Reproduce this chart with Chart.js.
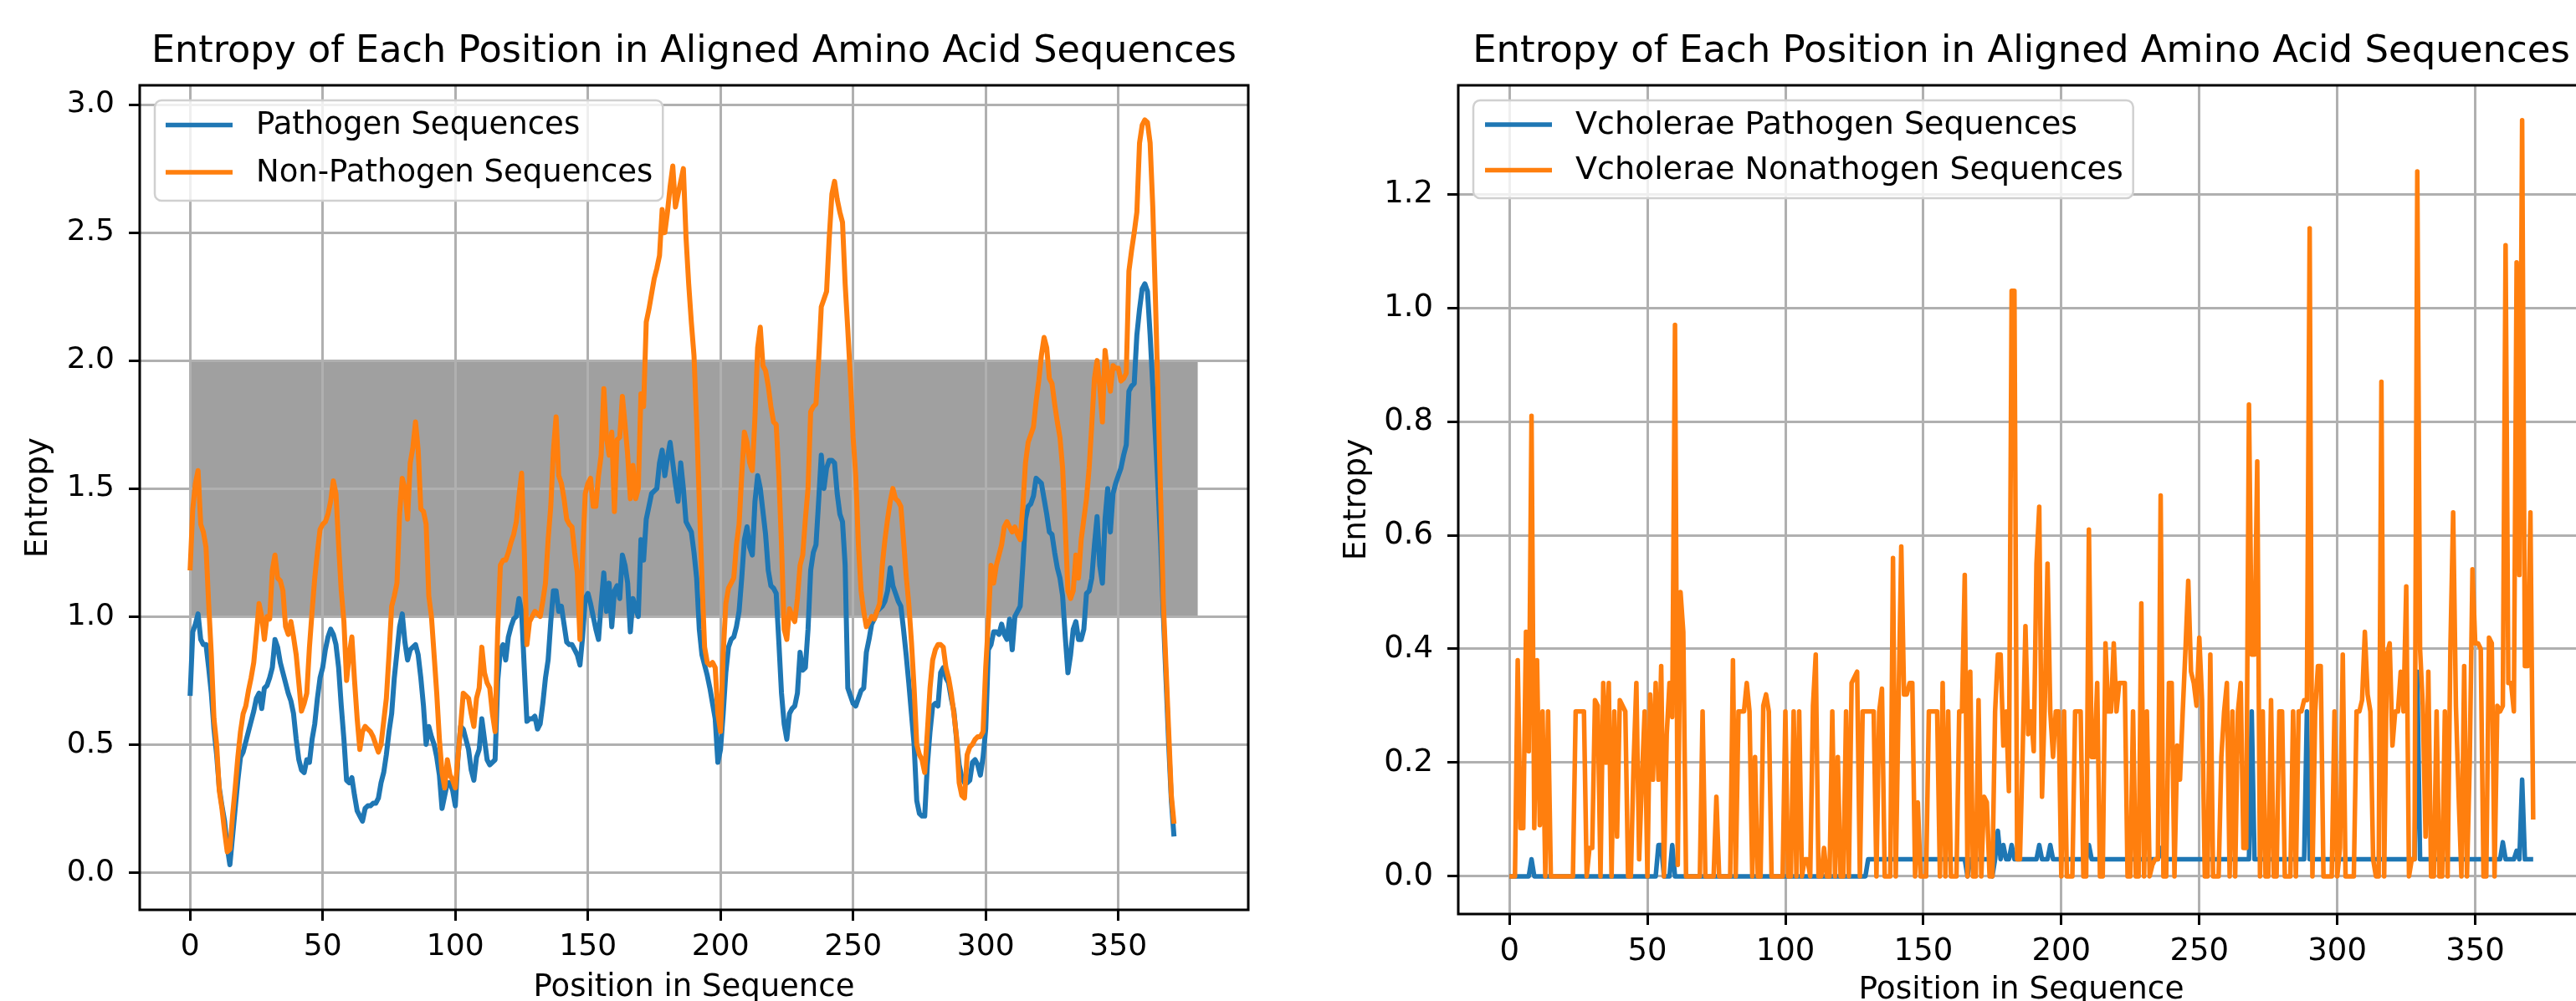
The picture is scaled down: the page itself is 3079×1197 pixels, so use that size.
<!DOCTYPE html>
<html><head><meta charset="utf-8">
<script src="https://cdn.jsdelivr.net/npm/chart.js@4.4.1/dist/chart.umd.min.js"></script>
<style>
html,body{margin:0;padding:0;background:#fff;overflow:hidden;width:3079px;height:1197px;}
#wrap{position:relative;width:3079px;height:1197px;overflow:hidden;background:#fff;}
#c1{position:absolute;left:0;top:0;}
#c2{position:absolute;left:1560px;top:0;}
</style></head><body>
<div id="wrap">
<canvas id="c1" width="1540" height="1240"></canvas>
<canvas id="c2" width="1580" height="1240"></canvas>
</div>
<script>
// ---------------- DATA ----------------
const leftTitle = 'Entropy of Each Position in Aligned Amino Acid Sequences';
const rightTitle = 'Entropy of Each Position in Aligned Amino Acid Sequences';
const xAxisTitle = 'Position in Sequence';
const yAxisTitle = 'Entropy';
const leftSeriesNames = ['Pathogen Sequences', 'Non-Pathogen Sequences'];
const rightSeriesNames = ['Vcholerae Pathogen Sequences', 'Vcholerae Nonathogen Sequences'];

const xTicks = [0, 50, 100, 150, 200, 250, 300, 350];
const leftYTicks = [0, 0.5, 1.0, 1.5, 2.0, 2.5, 3.0];
const rightYTicks = [0, 0.2, 0.4, 0.6, 0.8, 1.0, 1.2];

// shaded band on the left chart: x from..to, y from..to
const bandX = [0, 380];
const bandY = [1, 2];

const leftPathogen = [
0.69,0.94,0.97,1.01,0.91,0.89,0.89,0.80,0.70,0.56,
0.46,0.33,0.26,0.20,0.10,0.03,0.14,0.25,0.36,0.45,
0.47,0.51,0.55,0.59,0.63,0.68,0.70,0.64,0.72,0.73,
0.76,0.80,0.91,0.88,0.82,0.78,0.74,0.70,0.67,0.62,
0.52,0.44,0.40,0.39,0.44,0.43,0.52,0.58,0.68,0.76,
0.80,0.87,0.92,0.95,0.93,0.89,0.80,0.65,0.52,0.36,
0.35,0.37,0.30,0.24,0.22,0.20,0.25,0.26,0.26,0.27,
0.27,0.29,0.35,0.39,0.46,0.55,0.62,0.76,0.86,0.96,
1.01,0.90,0.83,0.87,0.88,0.89,0.85,0.76,0.65,0.50,
0.57,0.53,0.50,0.45,0.38,0.25,0.30,0.35,0.35,0.32,
0.26,0.45,0.57,0.56,0.52,0.48,0.40,0.36,0.45,0.48,
0.60,0.52,0.44,0.42,0.43,0.44,0.75,0.87,0.89,0.83,
0.92,0.96,0.99,1.00,1.07,1.02,0.80,0.59,0.60,0.60,
0.61,0.56,0.58,0.66,0.76,0.83,0.98,1.10,1.10,1.02,
1.04,0.97,0.90,0.89,0.89,0.87,0.85,0.81,0.92,1.07,
1.09,1.05,1.00,0.95,0.91,1.05,1.17,1.02,1.13,0.96,
1.10,1.12,1.07,1.24,1.20,1.13,0.94,1.07,1.03,1.00,
1.30,1.22,1.38,1.43,1.48,1.49,1.50,1.60,1.65,1.55,
1.62,1.68,1.60,1.52,1.45,1.60,1.50,1.37,1.35,1.33,
1.25,1.15,0.95,0.85,0.81,0.77,0.72,0.66,0.60,0.43,
0.48,0.62,0.78,0.88,0.91,0.92,0.96,1.02,1.15,1.30,
1.35,1.27,1.24,1.45,1.55,1.50,1.41,1.32,1.18,1.12,
1.11,1.09,0.90,0.70,0.58,0.52,0.62,0.64,0.65,0.70,
0.86,0.79,0.80,0.95,1.18,1.25,1.28,1.45,1.63,1.50,
1.58,1.61,1.61,1.60,1.48,1.40,1.37,1.20,0.72,0.69,
0.66,0.65,0.68,0.71,0.72,0.86,0.91,0.97,0.99,1.02,
1.03,1.04,1.06,1.10,1.19,1.12,1.09,1.06,1.04,0.95,
0.85,0.74,0.62,0.50,0.28,0.23,0.22,0.22,0.42,0.55,
0.65,0.66,0.65,0.78,0.80,0.76,0.74,0.68,0.63,0.52,
0.42,0.37,0.35,0.35,0.36,0.43,0.44,0.42,0.38,0.45,
0.56,0.87,0.89,0.94,0.94,0.93,0.97,0.93,0.91,0.99,
0.87,1.00,1.02,1.04,1.20,1.38,1.43,1.44,1.47,1.54,
1.53,1.52,1.46,1.40,1.33,1.32,1.25,1.19,1.15,1.08,
0.92,0.78,0.85,0.95,0.98,0.91,0.91,0.95,1.09,1.10,
1.15,1.28,1.39,1.20,1.13,1.38,1.50,1.33,1.48,1.52,
1.55,1.58,1.63,1.67,1.88,1.90,1.91,2.10,2.20,2.28,
2.30,2.27,2.10,1.90,1.70,1.50,1.28,1.00,0.75,0.50,
0.28,0.14
];

const leftNonPathogen = [
1.18,1.42,1.52,1.57,1.36,1.33,1.27,1.05,0.85,0.60,
0.50,0.32,0.25,0.16,0.08,0.09,0.22,0.33,0.45,0.55,
0.62,0.65,0.71,0.76,0.82,0.93,1.05,1.00,0.91,1.00,
0.99,1.18,1.24,1.15,1.14,1.10,0.96,0.93,0.98,0.92,
0.85,0.74,0.63,0.66,0.70,0.88,1.02,1.15,1.25,1.34,
1.36,1.37,1.40,1.45,1.53,1.48,1.28,1.10,0.98,0.75,
0.85,0.92,0.75,0.60,0.48,0.55,0.57,0.56,0.55,0.53,
0.50,0.47,0.50,0.59,0.68,0.85,1.04,1.08,1.13,1.40,
1.54,1.50,1.38,1.60,1.66,1.76,1.65,1.42,1.41,1.36,
1.08,1.00,0.85,0.70,0.52,0.39,0.33,0.44,0.38,0.36,
0.33,0.45,0.57,0.70,0.69,0.68,0.62,0.57,0.68,0.72,
0.88,0.78,0.74,0.72,0.62,0.55,0.95,1.20,1.22,1.22,
1.25,1.29,1.32,1.37,1.47,1.56,1.26,0.89,0.98,1.00,
1.02,1.01,1.00,1.06,1.13,1.30,1.43,1.65,1.78,1.55,
1.52,1.46,1.38,1.36,1.35,1.25,1.17,0.91,1.24,1.48,
1.52,1.54,1.43,1.43,1.55,1.63,1.89,1.70,1.63,1.72,
1.41,1.69,1.70,1.86,1.75,1.63,1.46,1.59,1.46,1.50,
1.87,1.82,2.15,2.20,2.26,2.32,2.36,2.41,2.59,2.50,
2.58,2.68,2.76,2.60,2.65,2.70,2.75,2.48,2.30,2.15,
2.02,1.76,1.45,1.15,0.88,0.82,0.81,0.82,0.80,0.62,
0.55,0.85,1.05,1.11,1.13,1.15,1.28,1.36,1.55,1.72,
1.68,1.60,1.57,1.78,2.05,2.13,1.98,1.96,1.90,1.82,
1.76,1.75,1.55,1.28,0.95,0.91,1.03,1.00,0.98,1.07,
1.20,1.24,1.38,1.50,1.80,1.82,1.83,2.00,2.21,2.24,
2.27,2.48,2.65,2.70,2.63,2.58,2.54,2.30,2.12,1.93,
1.70,1.55,1.28,1.10,1.02,0.96,0.98,1.00,0.99,1.02,
1.05,1.20,1.30,1.38,1.45,1.50,1.46,1.45,1.43,1.30,
1.16,1.05,0.90,0.72,0.50,0.46,0.44,0.39,0.55,0.72,
0.83,0.87,0.89,0.89,0.88,0.80,0.76,0.70,0.62,0.53,
0.35,0.30,0.29,0.46,0.49,0.50,0.52,0.53,0.53,0.55,
0.80,0.98,1.20,1.13,1.20,1.24,1.28,1.35,1.37,1.35,
1.33,1.35,1.32,1.30,1.43,1.60,1.68,1.71,1.74,1.84,
1.92,2.02,2.09,2.05,1.93,1.91,1.83,1.76,1.70,1.58,
1.35,1.10,1.07,1.10,1.24,1.15,1.30,1.38,1.46,1.58,
1.75,1.93,2.00,1.90,1.76,2.04,1.95,1.88,1.98,1.97,
1.97,1.92,1.93,1.95,2.35,2.43,2.50,2.58,2.85,2.92,
2.94,2.93,2.85,2.60,2.24,1.85,1.45,1.05,0.80,0.55,
0.30,0.19
];

const rightPathogen = [
0,0,0,0,0,0,0,0,0.03,0,
0,0,0,0,0,0,0,0,0,0,
0,0,0,0,0,0,0,0,0,0,
0,0,0,0,0,0,0,0,0,0,
0,0,0,0,0,0,0,0,0,0,
0,0,0,0,0.055,0.055,0,0,0,0.055,
0,0,0,0,0,0,0,0,0,0,
0,0,0,0,0,0,0,0,0,0,
0,0,0,0,0,0,0,0,0,0,
0,0,0,0,0,0,0,0,0,0,
0,0,0,0,0,0,0,0,0,0,
0,0,0,0,0,0,0,0,0,0,
0,0,0,0,0,0,0,0,0,0,
0.03,0.03,0.03,0.03,0.03,0.03,0.03,0.03,0.03,0.03,
0.03,0.03,0.03,0.03,0.03,0.03,0.03,0.03,0.03,0.03,
0.03,0.03,0.03,0.03,0.03,0.03,0.03,0.03,0.03,0.03,
0.03,0.03,0.03,0.03,0.03,0.03,0,0.03,0.03,0.03,
0.03,0.03,0.03,0.03,0.03,0,0.03,0.08,0.03,0.055,
0.03,0.03,0.055,0.03,0.03,0.03,0.03,0.03,0.03,0.03,
0.03,0.03,0.055,0.03,0.03,0.03,0.055,0.03,0.03,0.03,
0.03,0.03,0.03,0.03,0.03,0.03,0.03,0.03,0.03,0.03,
0.055,0.03,0.03,0.03,0.03,0.03,0.03,0.03,0.03,0.03,
0.03,0.03,0.03,0.03,0.03,0.03,0.03,0.03,0.03,0.03,
0.03,0.03,0.03,0.03,0.03,0.03,0.05,0.03,0.03,0.03,
0.03,0.03,0.03,0.03,0.03,0.03,0.03,0.03,0.03,0.03,
0.03,0.03,0.03,0.03,0.03,0.03,0.03,0.03,0.03,0.03,
0.03,0.03,0.03,0.03,0.03,0.03,0.03,0.03,0.03,0.29,
0.03,0.03,0.03,0.03,0.03,0.03,0.03,0.03,0.03,0.03,
0.03,0.03,0.03,0.03,0.03,0.03,0.03,0.03,0.03,0.29,
0.03,0.03,0.03,0.03,0.03,0.03,0.03,0.03,0.03,0.03,
0.03,0.03,0.03,0.03,0.03,0.03,0.03,0.03,0.03,0.03,
0.03,0.03,0.03,0.03,0.03,0.03,0.03,0.03,0.03,0.03,
0.03,0.03,0.03,0.03,0.03,0.03,0.03,0.03,0.03,0.36,
0.03,0.03,0.03,0.03,0.03,0.03,0.03,0.03,0.03,0.03,
0.03,0.03,0.03,0.03,0.03,0.03,0.03,0.03,0.03,0.03,
0.03,0.03,0.03,0.03,0.03,0.03,0.03,0.03,0.03,0.03,
0.06,0.03,0.03,0.03,0.03,0.045,0.03,0.17,0.03,0.03,
0.03,0.03
];

const rightNonpathogen = [
0,0,0,0.38,0.085,0.085,0.43,0.22,0.81,0.085,
0.38,0.09,0.29,0,0.29,0,0,0,0,0,
0,0,0,0,0.29,0.29,0.29,0.29,0,0.05,
0.05,0.31,0.30,0,0.34,0.20,0.34,0,0.29,0.07,
0.31,0.30,0.29,0,0,0.20,0.34,0.03,0.17,0.29,
0,0.32,0.17,0.34,0.17,0.37,0,0.25,0.34,0.28,
0.97,0.02,0.50,0.43,0,0,0,0,0,0,
0.29,0,0,0,0,0.14,0,0,0,0,
0,0.38,0,0.29,0.29,0.29,0.34,0.29,0,0.21,
0,0,0.30,0.32,0.29,0,0,0,0,0,
0.29,0,0,0.29,0,0.29,0,0.03,0.03,0,
0.30,0.39,0,0,0.05,0,0,0.29,0,0.21,
0,0,0.29,0,0.34,0.35,0.36,0,0.29,0.29,
0.29,0.29,0.29,0,0.29,0.33,0,0,0,0.56,
0,0.30,0.58,0.32,0.32,0.34,0.34,0,0.13,0,
0,0,0.29,0.29,0.29,0.29,0,0.34,0,0.29,
0,0,0,0.29,0.29,0.53,0,0.36,0,0,
0.31,0,0.14,0.13,0,0,0.29,0.39,0.39,0.23,
0.29,0.15,1.03,1.03,0.03,0.03,0.22,0.44,0.25,0.29,
0.22,0.55,0.65,0.14,0.30,0.55,0.29,0.21,0.29,0.29,
0,0.29,0,0,0,0.29,0.29,0.29,0,0,
0.61,0.21,0.21,0.34,0,0,0.41,0.29,0.29,0.41,
0.29,0.34,0.34,0.34,0,0,0.29,0,0,0.48,
0,0.29,0,0.02,0.03,0.03,0.67,0,0,0.34,
0.34,0,0.23,0.17,0.29,0.40,0.52,0.36,0.34,0.30,
0.42,0.31,0,0,0.39,0,0,0,0.21,0.29,
0.34,0,0.29,0,0.29,0.34,0.05,0.05,0.83,0.39,
0.39,0.73,0,0.29,0,0,0.31,0,0,0.29,
0.29,0,0,0,0.29,0,0.29,0.29,0.31,0.31,
1.14,0,0.29,0.37,0.37,0,0,0,0,0.29,
0,0.05,0.39,0,0,0,0,0.29,0.29,0.31,
0.43,0.32,0.29,0.03,0,0,0.87,0,0.39,0.41,
0.23,0.29,0.29,0.36,0.29,0.51,0,0.03,0.03,1.24,
0.40,0.30,0.07,0.36,0,0,0.29,0,0,0.29,
0,0.40,0.64,0.30,0.14,0,0.37,0,0.20,0.54,
0.41,0.41,0.40,0,0,0.42,0.41,0,0.30,0.29,
0.30,1.11,0.34,0.34,0.29,1.08,0.53,1.33,0.37,0.37,
0.64,0.10
];

// ---------------- HELPERS ----------------
const FONT = 'DejaVu Sans';
const BLUE = '#1f77b4', ORANGE = '#ff7f0e';
Chart.defaults.color = '#000';
Chart.defaults.font.family = FONT;

function toPoints(arr) { return arr.map((v, i) => ({x: i, y: v})); }

function roundRectPath(ctx, x, y, w, h, r) {
  ctx.beginPath();
  ctx.moveTo(x + r, y);
  ctx.lineTo(x + w - r, y); ctx.arcTo(x + w, y, x + w, y + r, r);
  ctx.lineTo(x + w, y + h - r); ctx.arcTo(x + w, y + h, x + w - r, y + h, r);
  ctx.lineTo(x + r, y + h); ctx.arcTo(x, y + h, x, y + h - r, r);
  ctx.lineTo(x, y + r); ctx.arcTo(x, y, x + r, y, r);
  ctx.closePath();
}

const framePlugin = {
  id: 'frame',
  afterDatasetsDraw(chart) {
    const {ctx, chartArea: a} = chart;
    ctx.save();
    ctx.strokeStyle = '#000'; ctx.lineWidth = 3;
    ctx.strokeRect(a.left, a.top, a.right - a.left, a.bottom - a.top);
    ctx.restore();
  }
};

const boxLegend = {
  id: 'boxLegend',
  afterDraw(chart, args, o) {
    const {ctx, chartArea: a} = chart;
    const items = chart.data.datasets.filter(d => d.inLegend);
    ctx.save();
    ctx.font = o.size + 'px "' + FONT + '"';
    const tw = Math.max(...items.map(d => ctx.measureText(d.label).width));
    const x = a.left + o.inset, y = a.top + o.inset;
    const w = o.textX + tw + o.padR, h = o.h;
    roundRectPath(ctx, x, y, w, h, 8);
    ctx.fillStyle = 'rgba(255,255,255,0.8)'; ctx.fill();
    ctx.strokeStyle = '#d0d0d0'; ctx.lineWidth = 2.5; ctx.stroke();
    items.forEach((d, i) => {
      const cy = y + o.row0 + i * o.rowGap;
      ctx.strokeStyle = d.borderColor; ctx.lineWidth = o.lw; ctx.lineCap = 'butt';
      ctx.beginPath(); ctx.moveTo(x + o.lineX0, cy); ctx.lineTo(x + o.lineX1, cy); ctx.stroke();
      ctx.fillStyle = '#000'; ctx.textBaseline = 'middle'; ctx.textAlign = 'left';
      ctx.fillText(d.label, x + o.textX, cy + 1);
    });
    ctx.restore();
  }
};

function lineDs(label, arr, color, order, lw) {
  return {label, data: toPoints(arr), borderColor: color, backgroundColor: color,
    borderWidth: lw, pointRadius: 0, tension: 0, fill: false, order, inLegend: true,
    borderJoinStyle: 'round', borderCapStyle: 'butt'};
}

function makeChart(id, cfg) {
  const xScale = {
    type: 'linear', min: cfg.xMin, max: cfg.xMax,
    afterBuildTicks: s => { s.ticks = xTicks.map(v => ({value: v})); },
    afterFit: s => { s.height = cfg.xHeight; },
    ticks: {autoSkip: false, maxRotation: 0, minRotation: 0, padding: cfg.xTickPad,
      font: {family: FONT, size: cfg.tickSize}, color: '#000', callback: v => String(v)},
    grid: {color: '#b0b0b0', lineWidth: 3, drawTicks: true, tickLength: 13, tickColor: '#000', tickWidth: 3},
    border: {display: false},
    title: {display: true, text: xAxisTitle, color: '#000', font: {family: FONT, size: cfg.labelSize},
      padding: {top: 0, bottom: cfg.xTitlePad}}
  };
  const yScale = {
    type: 'linear', min: cfg.yMin, max: cfg.yMax,
    afterBuildTicks: s => { s.ticks = cfg.yTicks.map(v => ({value: v})); },
    afterFit: s => { s.width = cfg.yWidth; },
    ticks: {autoSkip: false, padding: 17, font: {family: FONT, size: cfg.tickSize}, color: '#000',
      callback: v => Number(v).toFixed(1)},
    grid: {color: '#b0b0b0', lineWidth: 3, drawTicks: true, tickLength: 13, tickColor: '#000', tickWidth: 3},
    border: {display: false},
    title: {display: true, text: yAxisTitle, color: '#000', font: {family: FONT, size: cfg.labelSize},
      padding: {top: cfg.yTitlePad, bottom: 0}}
  };
  return new Chart(document.getElementById(id), {
    type: 'line',
    data: {datasets: cfg.datasets},
    options: {
      responsive: false, animation: false, devicePixelRatio: 1,
      layout: {padding: {left: 0, right: cfg.padRight, top: 0, bottom: 0}},
      plugins: {
        legend: {display: false}, tooltip: {enabled: false},
        filler: {drawTime: 'beforeDraw'},
        title: {display: true, text: cfg.title, fullSize: false, color: '#000',
          font: {family: FONT, size: cfg.titleSize, weight: 'normal'},
          padding: {top: cfg.titlePadTop, bottom: cfg.titlePadBottom}},
        boxLegend: cfg.legend
      },
      scales: {x: xScale, y: yScale}
    },
    plugins: [framePlugin, boxLegend]
  });
}

// ---------------- LEFT CHART ----------------
makeChart('c1', {
  title: leftTitle, titleSize: 44.5, titlePadTop: 36.1, titlePadBottom: 12.5,
  tickSize: 36, labelSize: 37,
  xMin: -19, xMax: 399, yMin: -0.1465, yMax: 3.0755, yTicks: leftYTicks,
  yWidth: 167, xHeight: 152, padRight: 48, xTickPad: 10, xTitlePad: 36, yTitlePad: 24,
  legend: {size: 37, inset: 18, row0: 29.6, rowGap: 56.4, lineX0: 13, lineX1: 93, textX: 121, padR: 12, h: 120, lw: 5.5},
  datasets: [
    lineDs(leftSeriesNames[0], leftPathogen, BLUE, 2, 6),
    lineDs(leftSeriesNames[1], leftNonPathogen, ORANGE, 1, 6),
    {label: 'band', data: [{x: bandX[0], y: bandY[1]}, {x: bandX[1], y: bandY[1]}],
     fill: {value: bandY[0]}, backgroundColor: 'rgba(128,128,128,0.75)',
     borderColor: 'rgba(0,0,0,0)', borderWidth: 0, pointRadius: 0, tension: 0, order: 3}
  ]
});

// ---------------- RIGHT CHART ----------------
makeChart('c2', {
  title: rightTitle, titleSize: 45, titlePadTop: 35.8, titlePadBottom: 12.2,
  tickSize: 37, labelSize: 37.5,
  xMin: -18.55, xMax: 389.55, yMin: -0.0663, yMax: 1.3914, yTicks: rightYTicks,
  yWidth: 183, xHeight: 147, padRight: 51, xTickPad: 10, xTitlePad: 33, yTitlePad: 40,
  legend: {size: 38, inset: 18, row0: 29, rowGap: 54.6, lineX0: 14, lineX1: 94, textX: 122, padR: 12, h: 117, lw: 5.5},
  datasets: [
    lineDs(rightSeriesNames[0], rightPathogen, BLUE, 2, 5.5),
    lineDs(rightSeriesNames[1], rightNonpathogen, ORANGE, 1, 5.5)
  ]
});
</script>
</body></html>
